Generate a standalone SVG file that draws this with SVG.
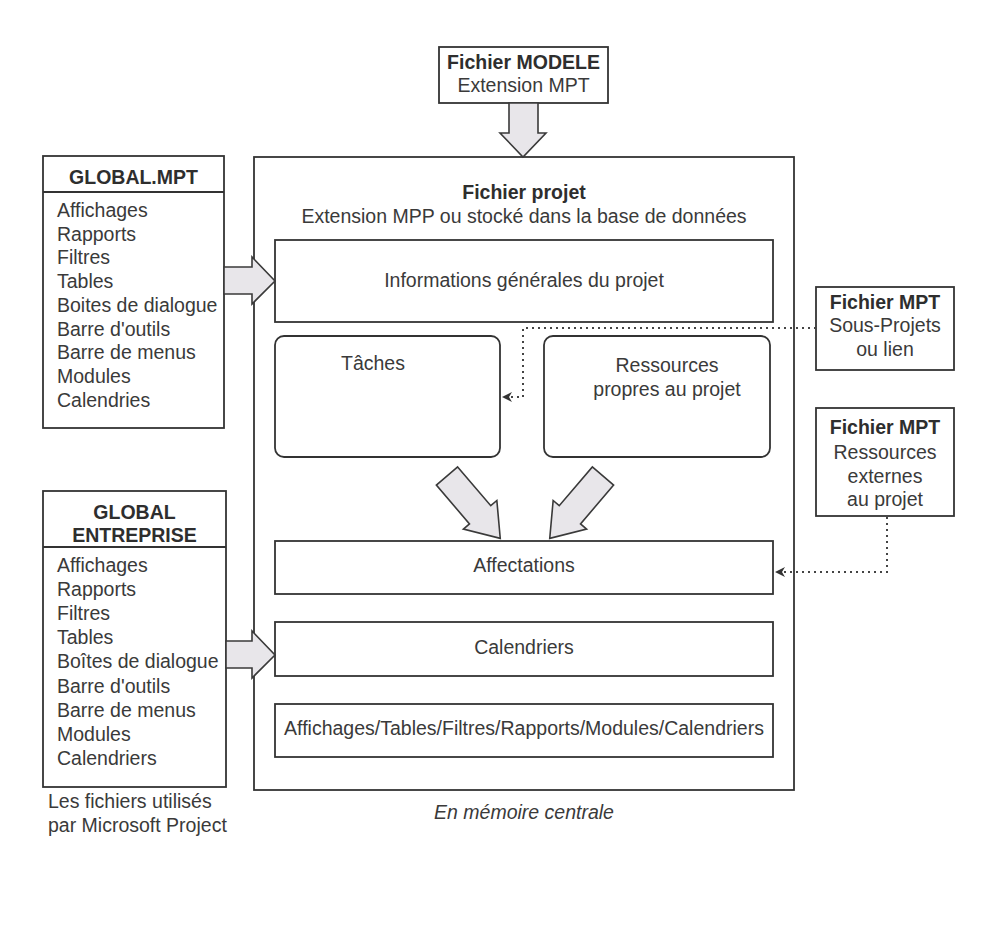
<svg xmlns="http://www.w3.org/2000/svg" width="1000" height="930" viewBox="0 0 1000 930">
  <defs>
    <style>
      text { font-family: "Liberation Sans", Arial, Helvetica, sans-serif; font-size: 19.5px; fill: #3a3a3a; }
      .b { font-weight: bold; fill: #2e2e2e; }
      .c { text-anchor: middle; }
      .i { font-style: italic; }
      .box { fill: #ffffff; stroke: #333333; stroke-width: 1.8; }
      .sep { stroke: #333333; stroke-width: 1.8; fill: none; }
      .blk { fill: #e8e6ea; stroke: #3a3a3a; stroke-width: 1.6; stroke-linejoin: miter; }
      .dot { fill: none; stroke: #444444; stroke-width: 2; stroke-dasharray: 2 4; }
    </style>
    <marker id="tip" viewBox="0 0 10 10" refX="9" refY="5" markerWidth="10" markerHeight="10" markerUnits="userSpaceOnUse" orient="auto">
      <path d="M0,0 L10,5 L0,10 L3,5 z" fill="#333333"/>
    </marker>
    <!-- block arrow drawn pointing to +x, tail at origin -->
    <polygon id="fat" points="0,-14 51,-14 51,-22 82,0 51,22 51,14 0,14"/>
  </defs>

  <rect width="1000" height="930" fill="#ffffff"/>

  <!-- template file -->
  <g id="modele">
    <rect class="box" x="439" y="47" width="169" height="56"/>
    <text class="b c" x="523.5" y="69">Fichier MODELE</text>
    <text class="c" x="523.5" y="92">Extension MPT</text>
  </g>

  <!-- project file in memory -->
  <g id="projet">
    <rect class="box" x="254" y="157" width="540" height="633"/>
    <text class="b c" x="524" y="199">Fichier projet</text>
    <text class="c" x="524" y="223">Extension MPP ou stocké dans la base de données</text>
  </g>

  <g id="infos">
    <rect class="box" x="275" y="240" width="498" height="82"/>
    <text class="c" x="524" y="287">Informations générales du projet</text>
  </g>

  <g id="taches">
    <rect class="box" x="275" y="336" width="225" height="121" rx="9"/>
    <text class="c" x="373" y="370">Tâches</text>
  </g>

  <g id="ressources">
    <rect class="box" x="544" y="336" width="226" height="121" rx="9"/>
    <text class="c" x="667" y="372">Ressources</text>
    <text class="c" x="667" y="396">propres au projet</text>
  </g>

  <g id="affectations">
    <rect class="box" x="275" y="541" width="498" height="53"/>
    <text class="c" x="524" y="572">Affectations</text>
  </g>

  <g id="calendriers">
    <rect class="box" x="275" y="622" width="498" height="54"/>
    <text class="c" x="524" y="654">Calendriers</text>
  </g>

  <g id="affichages">
    <rect class="box" x="275" y="704" width="498" height="53"/>
    <text class="c" x="524" y="735">Affichages/Tables/Filtres/Rapports/Modules/Calendriers</text>
  </g>

  <text class="i c" x="524" y="819">En mémoire centrale</text>

  <!-- GLOBAL.MPT -->
  <g id="global-mpt">
    <rect class="box" x="43" y="156" width="181" height="272"/>
    <line class="sep" x1="43" y1="192" x2="224" y2="192"/>
    <text class="b c" x="133.5" y="184">GLOBAL.MPT</text>
    <text x="57" y="217">Affichages</text>
    <text x="57" y="241">Rapports</text>
    <text x="57" y="264">Filtres</text>
    <text x="57" y="288">Tables</text>
    <text x="57" y="312">Boites de dialogue</text>
    <text x="57" y="336">Barre d'outils</text>
    <text x="57" y="359">Barre de menus</text>
    <text x="57" y="383">Modules</text>
    <text x="57" y="407">Calendries</text>
  </g>

  <!-- GLOBAL ENTREPRISE -->
  <g id="global-entreprise">
    <rect class="box" x="43" y="491" width="183" height="296"/>
    <line class="sep" x1="43" y1="547" x2="226" y2="547"/>
    <text class="b c" x="134.5" y="519">GLOBAL</text>
    <text class="b c" x="134.5" y="542">ENTREPRISE</text>
    <text x="57" y="572">Affichages</text>
    <text x="57" y="596">Rapports</text>
    <text x="57" y="620">Filtres</text>
    <text x="57" y="644">Tables</text>
    <text x="57" y="668">Boîtes de dialogue</text>
    <text x="57" y="693">Barre d'outils</text>
    <text x="57" y="717">Barre de menus</text>
    <text x="57" y="741">Modules</text>
    <text x="57" y="765">Calendriers</text>
  </g>

  <text x="48" y="808">Les fichiers utilisés</text>
  <text x="48" y="832">par Microsoft Project</text>

  <!-- external MPT files -->
  <g id="mpt-sousprojets">
    <rect class="box" x="816" y="287" width="138" height="83"/>
    <text class="b c" x="885" y="309">Fichier MPT</text>
    <text class="c" x="885" y="332">Sous-Projets</text>
    <text class="c" x="885" y="356">ou lien</text>
  </g>

  <g id="mpt-ressources">
    <rect class="box" x="816" y="408" width="138" height="108"/>
    <text class="b c" x="885" y="434">Fichier MPT</text>
    <text class="c" x="885" y="459">Ressources</text>
    <text class="c" x="885" y="483">externes</text>
    <text class="c" x="885" y="506">au projet</text>
  </g>

  <!-- connectors -->
  <g id="connectors">
    <polygon class="blk" points="509,103 538,103 538,133 546,133 523,157 500,133 509,133"/>
    <polygon class="blk" points="224,267 252,267 252,257 275,281 252,304 252,294 224,294"/>
    <polygon class="blk" points="226,641 252,641 252,631 275,655 252,678 252,668 226,668"/>
    <use href="#fat" class="blk" transform="translate(447,476) rotate(49.5)"/>
    <use href="#fat" class="blk" transform="translate(603,476) rotate(130.5)"/>
    <polyline class="dot" points="816,328 523,328 523,397 503,397" marker-end="url(#tip)"/>
    <polyline class="dot" points="887,517 887,572 776,572" marker-end="url(#tip)"/>
  </g>
</svg>
